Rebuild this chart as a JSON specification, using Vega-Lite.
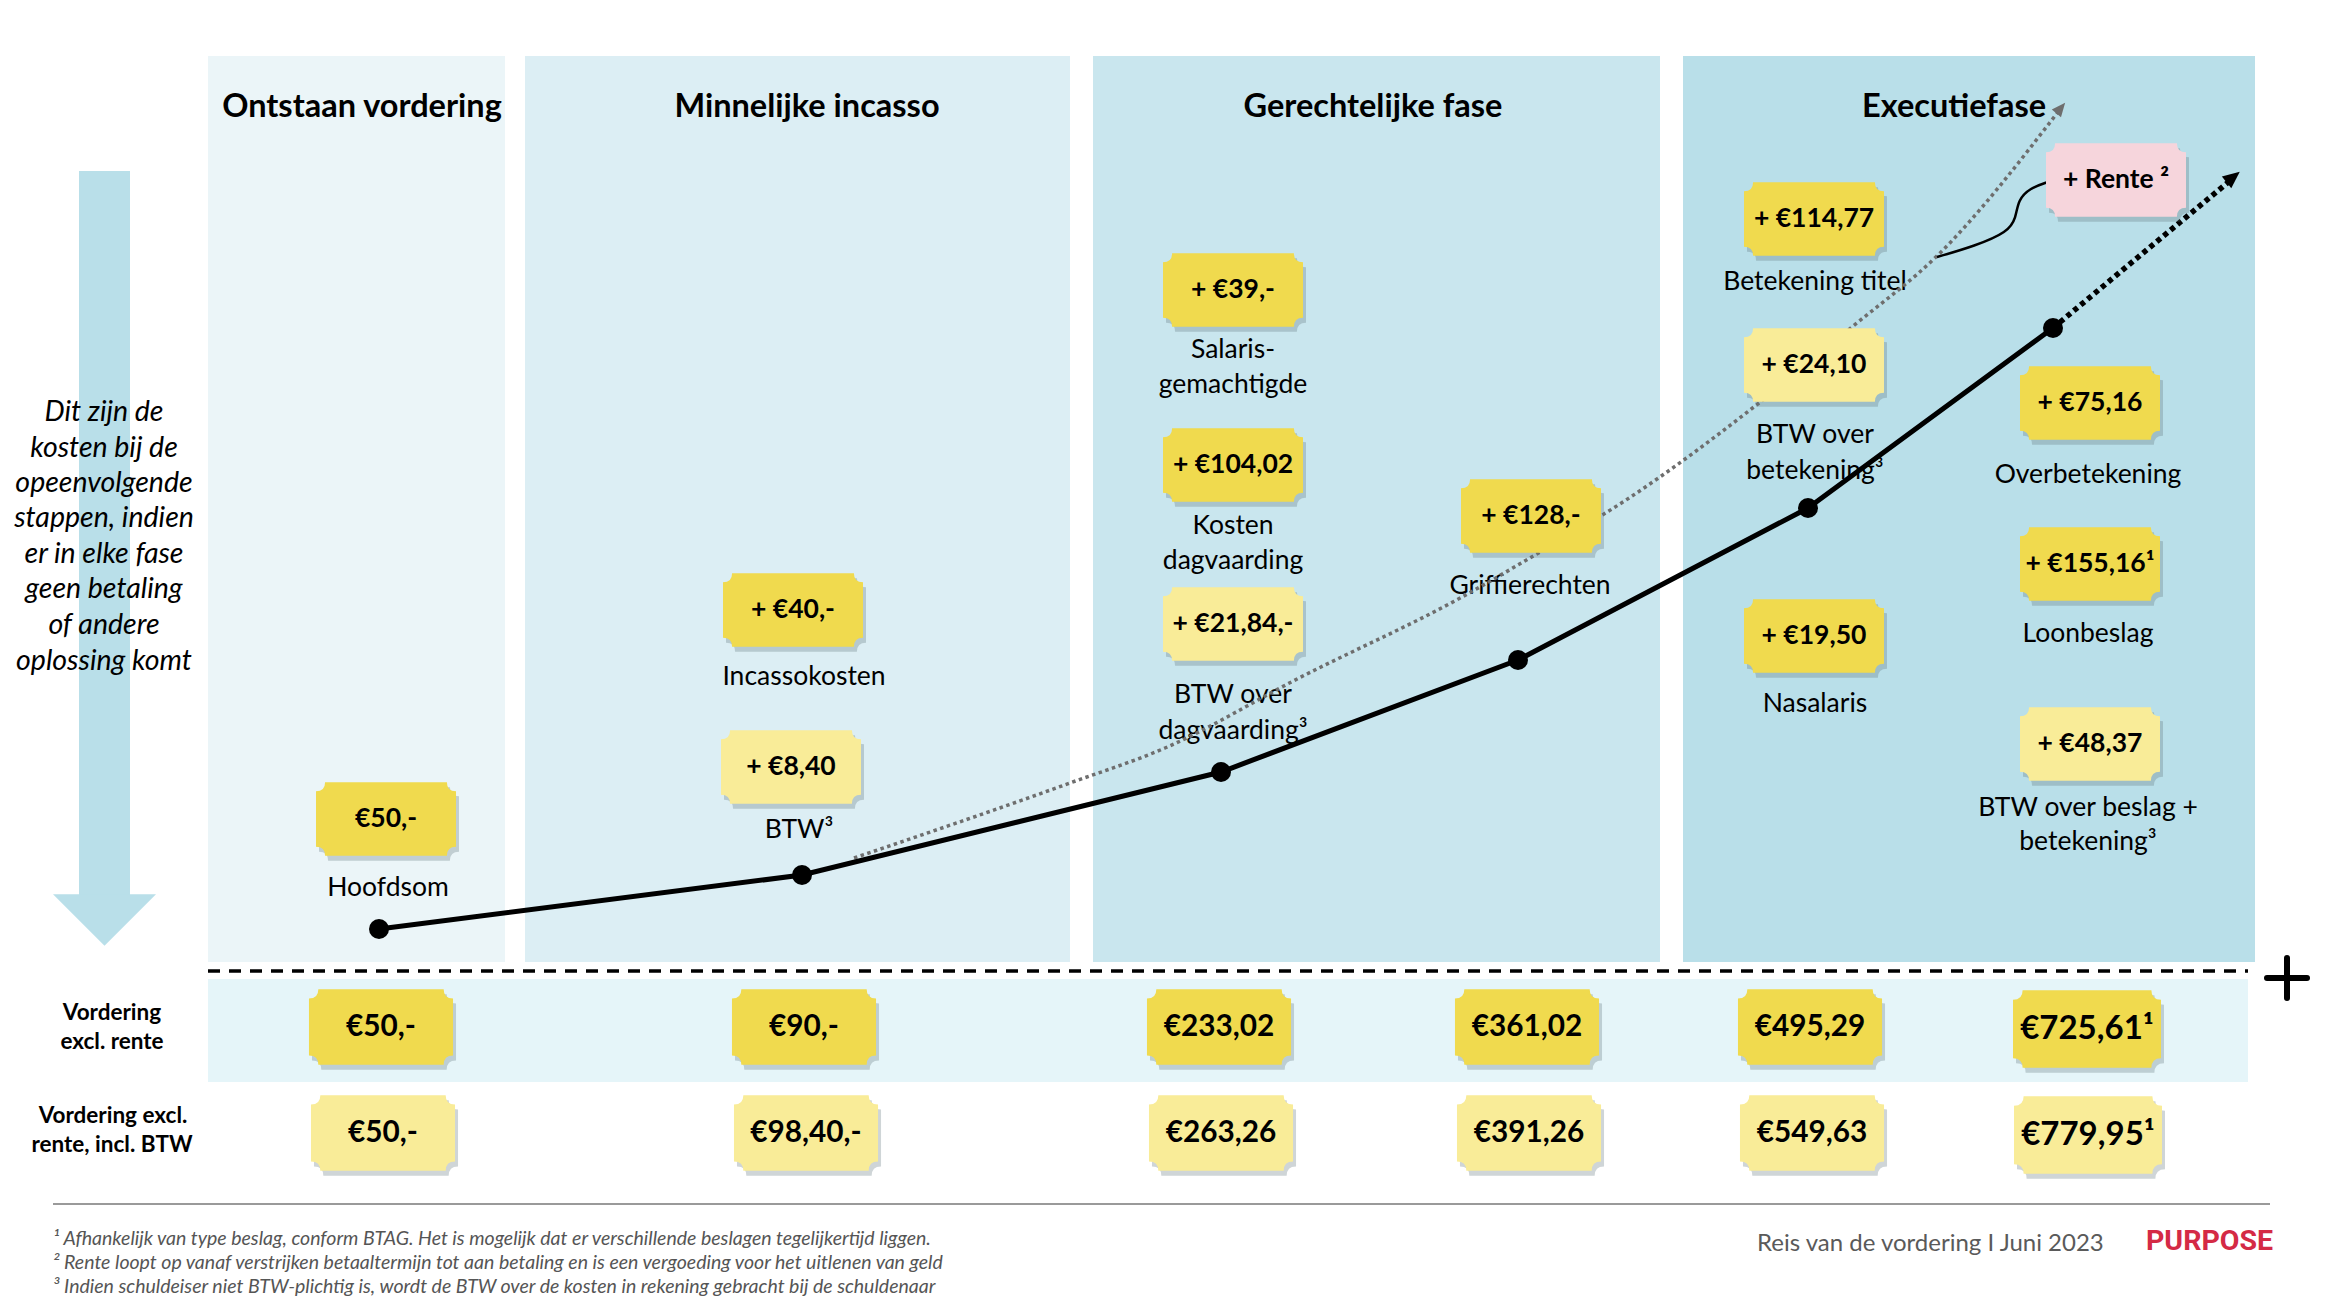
{
  "$schema": "https://vega.github.io/schema/vega-lite/v6.json",
  "width": 2330,
  "height": 1304,
  "autosize": {"type": "fit", "contains": "padding"},
  "padding": 0,
  "background": "white",
  "config": {"view": {"stroke": null}, "font": "Lato"},
  "datasets": {
    "panels": [
      {"zone": "ontstaan", "x": 208, "x2": 505, "y": 56, "y2": 962},
      {"zone": "minnelijk", "x": 525, "x2": 1070, "y": 56, "y2": 962},
      {"zone": "gerechtelijk", "x": 1093, "x2": 1660, "y": 56, "y2": 962},
      {"zone": "executie", "x": 1683, "x2": 2255, "y": 56, "y2": 962},
      {"zone": "rij", "x": 208, "x2": 2248, "y": 979, "y2": 1082},
      {"zone": "pijl", "x": 79, "x2": 130, "y": 171, "y2": 897}
    ],
    "arrowhead": [{"x": 104.5, "y": 920}],
    "titles": [
      {"t": "Ontstaan vordering", "x": 362, "y": 107},
      {"t": "Minnelijke incasso", "x": 807, "y": 107},
      {"t": "Gerechtelijke fase", "x": 1373, "y": 107},
      {"t": "Executiefase", "x": 1954, "y": 107}
    ],
    "lefttext": [
      {"t": "Dit zijn de", "x": 104, "y": 412},
      {"t": "kosten bij de", "x": 104, "y": 448},
      {"t": "opeenvolgende", "x": 104, "y": 483},
      {"t": "stappen, indien", "x": 104, "y": 518},
      {"t": "er in elke fase", "x": 104, "y": 554},
      {"t": "geen betaling", "x": 104, "y": 589},
      {"t": "of andere", "x": 104, "y": 625},
      {"t": "oplossing komt", "x": 104, "y": 661}
    ],
    "labels": [
      {"t": "Hoofdsom", "x": 388, "y": 888},
      {"t": "Incassokosten", "x": 804, "y": 677},
      {"t": "BTW³", "x": 799, "y": 830},
      {"t": "Salaris-", "x": 1233, "y": 350},
      {"t": "gemachtigde", "x": 1233, "y": 385},
      {"t": "Kosten", "x": 1233, "y": 526},
      {"t": "dagvaarding", "x": 1233, "y": 561},
      {"t": "BTW over", "x": 1233, "y": 695},
      {"t": "dagvaarding³", "x": 1233, "y": 731},
      {"t": "Griffierechten", "x": 1530, "y": 586},
      {"t": "Betekening titel", "x": 1815, "y": 282},
      {"t": "BTW over", "x": 1815, "y": 435},
      {"t": "betekening³", "x": 1815, "y": 471},
      {"t": "Nasalaris", "x": 1815, "y": 704},
      {"t": "Overbetekening", "x": 2088, "y": 475},
      {"t": "Loonbeslag", "x": 2088, "y": 634},
      {"t": "BTW over beslag +", "x": 2088, "y": 808},
      {"t": "betekening³", "x": 2088, "y": 842}
    ],
    "dash": [{"x": 208, "x2": 2248, "y": 971}],
    "plus": [
      {"x": 2267, "x2": 2307, "y": 978, "y2": 978},
      {"x": 2287, "x2": 2287, "y": 958, "y2": 998}
    ],
    "separator": [{"x": 53, "x2": 2270, "y": 1204}],
    "grey": [
      {"x": 854, "y": 858}, {"x": 1070, "y": 783}, {"x": 1165, "y": 748},
      {"x": 1299, "y": 678}, {"x": 1462, "y": 597}, {"x": 1540, "y": 552},
      {"x": 1626, "y": 500}, {"x": 1759, "y": 403}, {"x": 1852, "y": 327},
      {"x": 1938, "y": 255}, {"x": 2058, "y": 112}
    ],
    "mainline": [
      {"x": 379, "y": 929}, {"x": 802, "y": 875}, {"x": 1221, "y": 772},
      {"x": 1518, "y": 660}, {"x": 1808, "y": 508}, {"x": 2053, "y": 328}
    ],
    "extension": [{"x": 2053, "y": 328}, {"x": 2232, "y": 179}],
    "blackhead": [{"x": 2232, "y": 178}],
    "greyhead": [{"x": 2060, "y": 109}],
    "connector": [
      {"x": 1937, "y": 257}, {"x": 1975, "y": 246}, {"x": 2008, "y": 232},
      {"x": 2016, "y": 218}, {"x": 2018, "y": 200}, {"x": 2030, "y": 188},
      {"x": 2048, "y": 182}
    ],
    "badges": [
      {"t": "€50,-", "x": 386, "y": 819, "tone": "kosten", "kind": "stap"},
      {"t": "+ €40,-", "x": 793, "y": 610, "tone": "kosten", "kind": "stap"},
      {"t": "+ €8,40", "x": 791, "y": 767, "tone": "btw", "kind": "stap"},
      {"t": "+ €39,-", "x": 1233, "y": 290, "tone": "kosten", "kind": "stap"},
      {"t": "+ €104,02", "x": 1233, "y": 465, "tone": "kosten", "kind": "stap"},
      {"t": "+ €21,84,-", "x": 1233, "y": 624, "tone": "btw", "kind": "stap"},
      {"t": "+ €128,-", "x": 1531, "y": 516, "tone": "kosten", "kind": "stap"},
      {"t": "+ €114,77", "x": 1814, "y": 219, "tone": "kosten", "kind": "stap"},
      {"t": "+ €24,10", "x": 1814, "y": 365, "tone": "btw", "kind": "stap"},
      {"t": "+ €19,50", "x": 1814, "y": 636, "tone": "kosten", "kind": "stap"},
      {"t": "+ €75,16", "x": 2090, "y": 403, "tone": "kosten", "kind": "stap"},
      {"t": "+ €155,16¹", "x": 2090, "y": 564, "tone": "kosten", "kind": "stap"},
      {"t": "+ €48,37", "x": 2090, "y": 744, "tone": "btw", "kind": "stap"},
      {"t": "+ Rente ²", "x": 2116, "y": 180, "tone": "rente", "kind": "stap"},
      {"t": "€50,-", "x": 381, "y": 1027, "tone": "kosten", "kind": "rij"},
      {"t": "€90,-", "x": 804, "y": 1027, "tone": "kosten", "kind": "rij"},
      {"t": "€233,02", "x": 1219, "y": 1027, "tone": "kosten", "kind": "rij"},
      {"t": "€361,02", "x": 1527, "y": 1027, "tone": "kosten", "kind": "rij"},
      {"t": "€495,29", "x": 1810, "y": 1027, "tone": "kosten", "kind": "rij"},
      {"t": "€725,61¹", "x": 2087, "y": 1029, "tone": "kosten", "kind": "eind"},
      {"t": "€50,-", "x": 383, "y": 1133, "tone": "btw", "kind": "rij"},
      {"t": "€98,40,-", "x": 806, "y": 1133, "tone": "btw", "kind": "rij"},
      {"t": "€263,26", "x": 1221, "y": 1133, "tone": "btw", "kind": "rij"},
      {"t": "€391,26", "x": 1529, "y": 1133, "tone": "btw", "kind": "rij"},
      {"t": "€549,63", "x": 1812, "y": 1133, "tone": "btw", "kind": "rij"},
      {"t": "€779,95¹", "x": 2088, "y": 1135, "tone": "btw", "kind": "eind"}
    ],
    "rowlabels": [
      {"t": "Vordering", "x": 112, "y": 1013},
      {"t": "excl. rente", "x": 112, "y": 1042},
      {"t": "Vordering excl.", "x": 113, "y": 1116},
      {"t": "rente, incl. BTW", "x": 112, "y": 1145}
    ],
    "footnotes": [
      {"t": "¹ Afhankelijk van type beslag, conform BTAG. Het is mogelijk dat er verschillende beslagen tegelijkertijd liggen.", "x": 53, "y": 1239},
      {"t": "² Rente loopt op vanaf verstrijken betaaltermijn tot aan betaling en is een vergoeding voor het uitlenen van geld", "x": 53, "y": 1263},
      {"t": "³ Indien schuldeiser niet BTW-plichtig is, wordt de BTW over de kosten in rekening gebracht bij de schuldenaar", "x": 53, "y": 1287}
    ],
    "footer": [{"t": "Reis van de vordering I Juni 2023", "x": 1757, "y": 1244}],
    "logo": [{"t": "PURPOSE", "x": 2146, "y": 1241}]
  },
  "encoding": {
    "x": {"field": "x", "type": "quantitative", "scale": {"domain": [0, 2330], "nice": false, "zero": false}, "axis": null},
    "y": {"field": "y", "type": "quantitative", "scale": {"domain": [0, 1304], "nice": false, "zero": false, "reverse": true}, "axis": null}
  },
  "layer": [
    {
      "data": {"name": "panels"},
      "mark": {"type": "rect"},
      "encoding": {
        "x2": {"field": "x2"},
        "y2": {"field": "y2"},
        "color": {"field": "zone", "type": "nominal", "legend": null,
          "scale": {"domain": ["ontstaan", "minnelijk", "gerechtelijk", "executie", "rij", "pijl"],
                    "range": ["#EBF5F8", "#DCEEF4", "#C9E6EE", "#B9DFE9", "#E5F5F9", "#B9DFE9"]}}
      }
    },
    {
      "data": {"name": "arrowhead"},
      "mark": {"type": "point", "shape": "M -1,-0.5 L 1,-0.5 L 0,0.5 Z", "filled": true, "size": 10609, "color": "#B9DFE9", "opacity": 1, "strokeWidth": 0}
    },
    {
      "data": {"name": "titles"},
      "mark": {"type": "text", "fontSize": 32.5, "fontWeight": "bold", "align": "center", "baseline": "middle", "color": "#000000"},
      "encoding": {"text": {"field": "t"}}
    },
    {
      "data": {"name": "lefttext"},
      "mark": {"type": "text", "fontSize": 28.5, "fontStyle": "italic", "align": "center", "baseline": "middle", "color": "#000000"},
      "encoding": {"text": {"field": "t"}}
    },
    {
      "data": {"name": "labels"},
      "mark": {"type": "text", "fontSize": 26.5, "align": "center", "baseline": "middle", "color": "#000000"},
      "encoding": {"text": {"field": "t"}}
    },
    {
      "data": {"name": "dash"},
      "mark": {"type": "rule", "strokeDash": [12, 9], "strokeWidth": 3.5, "color": "#000000"},
      "encoding": {"x2": {"field": "x2"}}
    },
    {
      "data": {"name": "plus"},
      "mark": {"type": "rule", "strokeWidth": 6, "color": "#000000", "strokeCap": "round"},
      "encoding": {"x2": {"field": "x2"}, "y2": {"field": "y2"}}
    },
    {
      "data": {"name": "separator"},
      "mark": {"type": "rule", "strokeWidth": 2, "color": "#9a9a9a"},
      "encoding": {"x2": {"field": "x2"}}
    },
    {
      "data": {"name": "grey"},
      "mark": {"type": "line", "interpolate": "monotone", "strokeDash": [3.5, 3.5], "strokeWidth": 3.5, "color": "#6e6e6e"},
      "encoding": {}
    },
    {
      "data": {"name": "greyhead"},
      "mark": {"type": "point", "shape": "M 0,-1 L 0.75,0.7 L -0.75,0.7 Z", "filled": true, "size": 256, "angle": 40, "color": "#6e6e6e", "opacity": 1, "strokeWidth": 0}
    },
    {
      "data": {"name": "mainline"},
      "mark": {"type": "line", "strokeWidth": 5, "color": "#000000"},
      "encoding": {}
    },
    {
      "data": {"name": "extension"},
      "mark": {"type": "line", "strokeWidth": 5.5, "strokeDash": [5, 4], "color": "#000000"},
      "encoding": {}
    },
    {
      "data": {"name": "blackhead"},
      "mark": {"type": "point", "shape": "M 0,-1 L 0.75,0.7 L -0.75,0.7 Z", "filled": true, "size": 400, "angle": 51, "color": "#000000", "opacity": 1, "strokeWidth": 0}
    },
    {
      "data": {"name": "connector"},
      "mark": {"type": "line", "interpolate": "basis", "strokeWidth": 2.5, "color": "#000000"},
      "encoding": {}
    },
    {
      "data": {"name": "mainline"},
      "mark": {"type": "point", "shape": "circle", "filled": true, "size": 400, "color": "#000000", "opacity": 1}
    },
    {
      "data": {"name": "badges"},
      "mark": {"type": "point", "shape": "M -0.87,-0.525 L 0.87,-0.525 Q 0.87,-0.395 1,-0.395 L 1,0.395 Q 0.87,0.395 0.87,0.525 L -0.87,0.525 Q -0.87,0.395 -1,0.395 L -1,-0.395 Q -0.87,-0.395 -0.87,-0.525 Z", "filled": true, "color": "#5f747c", "opacity": 0.3, "strokeWidth": 0, "xOffset": 3, "yOffset": 5},
      "encoding": {
        "size": {"field": "kind", "type": "ordinal", "legend": null, "scale": {"domain": ["stap", "rij", "eind"], "range": [19600, 21904, 33124]}}
      }
    },
    {
      "data": {"name": "badges"},
      "mark": {"type": "point", "shape": "M -0.87,-0.525 L 0.87,-0.525 Q 0.87,-0.395 1,-0.395 L 1,0.395 Q 0.87,0.395 0.87,0.525 L -0.87,0.525 Q -0.87,0.395 -1,0.395 L -1,-0.395 Q -0.87,-0.395 -0.87,-0.525 Z", "filled": true, "opacity": 1, "strokeWidth": 0},
      "encoding": {
        "size": {"field": "kind", "type": "ordinal", "legend": null, "scale": {"domain": ["stap", "rij", "eind"], "range": [19600, 21904, 33124]}},
        "color": {"field": "tone", "type": "nominal", "legend": null, "scale": {"domain": ["kosten", "btw", "rente"], "range": ["#F0DA4E", "#F9EC98", "#F6D5DC"]}}
      }
    },
    {
      "data": {"name": "badges"},
      "mark": {"type": "text", "fontWeight": "bold", "align": "center", "baseline": "middle", "color": "#000000"},
      "encoding": {
        "text": {"field": "t"},
        "size": {"field": "kind", "type": "ordinal", "legend": null, "scale": {"domain": ["stap", "rij", "eind"], "range": [26.5, 33, 40]}}
      }
    },
    {
      "data": {"name": "rowlabels"},
      "mark": {"type": "text", "fontSize": 22.5, "fontWeight": "bold", "align": "center", "baseline": "middle", "color": "#000000"},
      "encoding": {"text": {"field": "t"}}
    },
    {
      "data": {"name": "footnotes"},
      "mark": {"type": "text", "fontSize": 19.5, "fontStyle": "italic", "align": "left", "baseline": "middle", "color": "#555555"},
      "encoding": {"text": {"field": "t"}}
    },
    {
      "data": {"name": "footer"},
      "mark": {"type": "text", "fontSize": 24, "align": "left", "baseline": "middle", "color": "#5a5a5a"},
      "encoding": {"text": {"field": "t"}}
    },
    {
      "data": {"name": "logo"},
      "mark": {"type": "text", "font": "Roboto", "fontSize": 28.5, "fontWeight": "bold", "align": "left", "baseline": "middle", "color": "#D42A45"},
      "encoding": {"text": {"field": "t"}}
    }
  ],
  "resolve": {"scale": {"color": "independent", "size": "independent"}}
}
